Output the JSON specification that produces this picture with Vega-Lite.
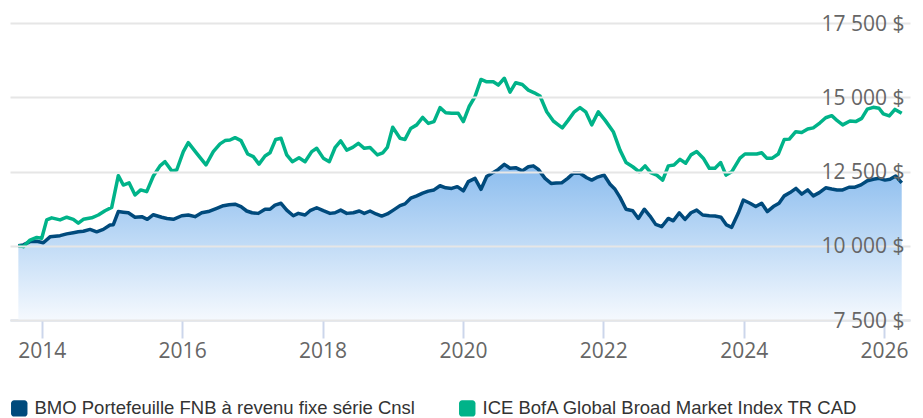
{
  "$schema": "https://vega.github.io/schema/vega-lite/v6.json",
  "autosize": {"type": "none"},
  "padding": {"left": 10, "top": 23, "right": 13, "bottom": 98},
  "width": 900,
  "height": 297,
  "background": "white",
  "config": {
    "view": {"stroke": null},
    "font": "Open Sans"
  },
  "datasets": {
    "bmo": [
      {"t":2013.667,"v":10000},{"t":2013.738,"v":10030},{"t":2013.833,"v":10140},{"t":2013.929,"v":10150},
      {"t":2014.023,"v":10100},{"t":2014.118,"v":10300},{"t":2014.189,"v":10320},{"t":2014.261,"v":10340},
      {"t":2014.356,"v":10400},{"t":2014.450,"v":10440},{"t":2014.521,"v":10470},{"t":2014.593,"v":10490},
      {"t":2014.688,"v":10550},{"t":2014.783,"v":10470},{"t":2014.877,"v":10550},{"t":2014.973,"v":10700},
      {"t":2015.020,"v":10710},{"t":2015.091,"v":11150},{"t":2015.162,"v":11130},{"t":2015.234,"v":11110},
      {"t":2015.329,"v":10960},{"t":2015.425,"v":10980},{"t":2015.504,"v":10890},{"t":2015.590,"v":11045},
      {"t":2015.709,"v":10960},{"t":2015.785,"v":10920},{"t":2015.875,"v":10890},{"t":2015.994,"v":11010},
      {"t":2016.088,"v":11035},{"t":2016.184,"v":10980},{"t":2016.279,"v":11110},{"t":2016.373,"v":11150},
      {"t":2016.493,"v":11260},{"t":2016.587,"v":11350},{"t":2016.668,"v":11380},{"t":2016.754,"v":11400},
      {"t":2016.839,"v":11320},{"t":2016.920,"v":11170},{"t":2016.996,"v":11110},{"t":2017.085,"v":11090},
      {"t":2017.181,"v":11230},{"t":2017.252,"v":11230},{"t":2017.323,"v":11370},{"t":2017.409,"v":11430},
      {"t":2017.490,"v":11200},{"t":2017.584,"v":11010},{"t":2017.655,"v":11090},{"t":2017.751,"v":11035},
      {"t":2017.822,"v":11180},{"t":2017.917,"v":11280},{"t":2018.011,"v":11180},{"t":2018.107,"v":11090},
      {"t":2018.178,"v":11110},{"t":2018.259,"v":11200},{"t":2018.345,"v":11090},{"t":2018.439,"v":11110},
      {"t":2018.524,"v":11170},{"t":2018.595,"v":11090},{"t":2018.677,"v":11170},{"t":2018.762,"v":11070},
      {"t":2018.843,"v":11000},{"t":2018.923,"v":11070},{"t":2019.009,"v":11200},{"t":2019.104,"v":11350},
      {"t":2019.175,"v":11410},{"t":2019.256,"v":11600},{"t":2019.342,"v":11680},{"t":2019.427,"v":11770},
      {"t":2019.507,"v":11840},{"t":2019.588,"v":11880},{"t":2019.674,"v":12020},{"t":2019.755,"v":11950},
      {"t":2019.840,"v":11930},{"t":2019.920,"v":11990},{"t":2020.006,"v":11850},{"t":2020.077,"v":12160},
      {"t":2020.172,"v":12270},{"t":2020.258,"v":11900},{"t":2020.339,"v":12330},{"t":2020.433,"v":12470},
      {"t":2020.504,"v":12570},{"t":2020.590,"v":12740},{"t":2020.671,"v":12610},{"t":2020.752,"v":12630},
      {"t":2020.846,"v":12520},{"t":2020.932,"v":12660},{"t":2021.003,"v":12690},{"t":2021.074,"v":12570},
      {"t":2021.170,"v":12270},{"t":2021.256,"v":12100},{"t":2021.327,"v":12110},{"t":2021.407,"v":12120},
      {"t":2021.493,"v":12270},{"t":2021.573,"v":12440},{"t":2021.668,"v":12440},{"t":2021.764,"v":12290},
      {"t":2021.835,"v":12210},{"t":2021.906,"v":12300},{"t":2022.010,"v":12380},{"t":2022.096,"v":12070},
      {"t":2022.167,"v":11900},{"t":2022.238,"v":11630},{"t":2022.324,"v":11230},{"t":2022.419,"v":11180},
      {"t":2022.499,"v":10920},{"t":2022.584,"v":11230},{"t":2022.665,"v":11000},{"t":2022.746,"v":10720},
      {"t":2022.832,"v":10640},{"t":2022.926,"v":10920},{"t":2022.997,"v":10840},{"t":2023.083,"v":11110},
      {"t":2023.164,"v":10890},{"t":2023.249,"v":11110},{"t":2023.330,"v":11200},{"t":2023.416,"v":11035},
      {"t":2023.510,"v":11010},{"t":2023.591,"v":11000},{"t":2023.677,"v":10960},{"t":2023.755,"v":10700},
      {"t":2023.829,"v":10620},{"t":2023.923,"v":11100},{"t":2023.994,"v":11540},{"t":2024.090,"v":11430},
      {"t":2024.171,"v":11320},{"t":2024.256,"v":11430},{"t":2024.336,"v":11150},{"t":2024.422,"v":11320},
      {"t":2024.503,"v":11430},{"t":2024.578,"v":11680},{"t":2024.660,"v":11790},{"t":2024.745,"v":11930},
      {"t":2024.826,"v":11740},{"t":2024.912,"v":11880},{"t":2024.991,"v":11680},{"t":2025.077,"v":11790},
      {"t":2025.168,"v":11950},{"t":2025.254,"v":11910},{"t":2025.329,"v":11880},{"t":2025.410,"v":11880},
      {"t":2025.500,"v":11970},{"t":2025.585,"v":11970},{"t":2025.671,"v":12050},{"t":2025.761,"v":12190},
      {"t":2025.846,"v":12240},{"t":2025.927,"v":12270},{"t":2026.013,"v":12210},{"t":2026.084,"v":12240},
      {"t":2026.165,"v":12350},{"t":2026.251,"v":12120}
    ],
    "ice": [
      {"t":2013.667,"v":10000},{"t":2013.738,"v":9970},{"t":2013.833,"v":10190},{"t":2013.929,"v":10280},
      {"t":2014.000,"v":10250},{"t":2014.071,"v":10870},{"t":2014.142,"v":10940},{"t":2014.261,"v":10870},
      {"t":2014.356,"v":10960},{"t":2014.450,"v":10890},{"t":2014.521,"v":10760},{"t":2014.593,"v":10890},
      {"t":2014.712,"v":10940},{"t":2014.806,"v":11035},{"t":2014.902,"v":11180},{"t":2014.997,"v":11290},
      {"t":2015.091,"v":12360},{"t":2015.162,"v":12045},{"t":2015.244,"v":12120},{"t":2015.329,"v":11710},
      {"t":2015.410,"v":11880},{"t":2015.496,"v":11820},{"t":2015.590,"v":12350},{"t":2015.685,"v":12690},
      {"t":2015.756,"v":12830},{"t":2015.852,"v":12520},{"t":2015.923,"v":12550},{"t":2016.017,"v":13170},
      {"t":2016.088,"v":13470},{"t":2016.208,"v":13110},{"t":2016.340,"v":12720},{"t":2016.444,"v":13170},
      {"t":2016.540,"v":13430},{"t":2016.611,"v":13540},{"t":2016.682,"v":13560},{"t":2016.754,"v":13640},
      {"t":2016.839,"v":13540},{"t":2016.934,"v":13090},{"t":2017.014,"v":13000},{"t":2017.095,"v":12750},
      {"t":2017.181,"v":13020},{"t":2017.252,"v":13130},{"t":2017.333,"v":13580},{"t":2017.409,"v":13620},
      {"t":2017.490,"v":13060},{"t":2017.570,"v":12830},{"t":2017.665,"v":12960},{"t":2017.751,"v":12830},
      {"t":2017.846,"v":13170},{"t":2017.917,"v":13280},{"t":2018.011,"v":12950},{"t":2018.097,"v":12830},
      {"t":2018.178,"v":13300},{"t":2018.259,"v":13530},{"t":2018.345,"v":13220},{"t":2018.430,"v":13310},
      {"t":2018.510,"v":13450},{"t":2018.595,"v":13280},{"t":2018.677,"v":13310},{"t":2018.781,"v":13060},
      {"t":2018.858,"v":13130},{"t":2018.923,"v":13310},{"t":2019.000,"v":13990},{"t":2019.104,"v":13620},
      {"t":2019.175,"v":13580},{"t":2019.256,"v":13950},{"t":2019.342,"v":14070},{"t":2019.427,"v":14320},
      {"t":2019.507,"v":14120},{"t":2019.588,"v":14180},{"t":2019.674,"v":14650},{"t":2019.755,"v":14480},
      {"t":2019.840,"v":14460},{"t":2019.934,"v":14460},{"t":2020.006,"v":14180},{"t":2020.087,"v":14680},
      {"t":2020.172,"v":15020},{"t":2020.258,"v":15600},{"t":2020.339,"v":15520},{"t":2020.433,"v":15520},
      {"t":2020.504,"v":15410},{"t":2020.590,"v":15640},{"t":2020.671,"v":15170},{"t":2020.752,"v":15490},
      {"t":2020.846,"v":15430},{"t":2020.932,"v":15240},{"t":2021.017,"v":15150},{"t":2021.098,"v":15040},
      {"t":2021.194,"v":14510},{"t":2021.288,"v":14200},{"t":2021.350,"v":14090},{"t":2021.416,"v":13970},
      {"t":2021.501,"v":14230},{"t":2021.587,"v":14510},{"t":2021.668,"v":14650},{"t":2021.749,"v":14510},
      {"t":2021.835,"v":14070},{"t":2021.929,"v":14510},{"t":2022.024,"v":14230},{"t":2022.142,"v":13840},
      {"t":2022.238,"v":13220},{"t":2022.324,"v":12800},{"t":2022.419,"v":12660},{"t":2022.513,"v":12490},
      {"t":2022.595,"v":12690},{"t":2022.675,"v":12460},{"t":2022.761,"v":12380},{"t":2022.846,"v":12210},
      {"t":2022.926,"v":12690},{"t":2023.007,"v":12720},{"t":2023.093,"v":12910},{"t":2023.174,"v":12780},
      {"t":2023.249,"v":13060},{"t":2023.330,"v":13170},{"t":2023.424,"v":12950},{"t":2023.510,"v":12610},
      {"t":2023.591,"v":12610},{"t":2023.672,"v":12800},{"t":2023.748,"v":12380},{"t":2023.829,"v":12490},
      {"t":2023.947,"v":12950},{"t":2024.018,"v":13090},{"t":2024.104,"v":13090},{"t":2024.185,"v":13090},
      {"t":2024.256,"v":13130},{"t":2024.328,"v":12950},{"t":2024.407,"v":12950},{"t":2024.493,"v":13090},
      {"t":2024.578,"v":13580},{"t":2024.650,"v":13590},{"t":2024.741,"v":13840},{"t":2024.826,"v":13810},
      {"t":2024.912,"v":13930},{"t":2024.991,"v":13970},{"t":2025.087,"v":14140},{"t":2025.168,"v":14310},
      {"t":2025.254,"v":14380},{"t":2025.333,"v":14210},{"t":2025.410,"v":14070},{"t":2025.514,"v":14200},
      {"t":2025.595,"v":14180},{"t":2025.681,"v":14290},{"t":2025.761,"v":14600},{"t":2025.846,"v":14660},
      {"t":2025.927,"v":14630},{"t":2025.989,"v":14440},{"t":2026.074,"v":14370},{"t":2026.155,"v":14590},
      {"t":2026.251,"v":14460}
    ]
  },
  "encoding": {
    "x": {
      "field": "t", "type": "quantitative",
      "scale": {"domain": [2013.548, 2026.369], "nice": false, "zero": false},
      "axis": {
        "title": null, "values": [2014, 2016, 2018, 2020, 2022, 2024, 2026], "format": "d",
        "grid": false, "domainColor": "#ccd6eb", "domainWidth": 2,
        "tickColor": "#ccd6eb", "tickWidth": 2, "tickSize": 18,
        "labelFont": "Open Sans", "labelFontSize": 21, "labelColor": "#666666",
        "labelPadding": 2, "labelFlush": false, "labelOverlap": false
      }
    },
    "y": {
      "field": "v", "type": "quantitative",
      "scale": {"domain": [7500, 17500], "nice": false, "zero": false},
      "axis": {
        "title": null, "orient": "right", "values": [7500, 10000, 12500, 15000, 17500],
        "domain": false, "ticks": false, "tickSize": 0,
        "grid": true, "gridColor": "#e6e6e6", "gridWidth": 2,
        "labelAlign": "right", "labelBaseline": "middle", "labelPadding": -6, "labelOffset": 1,
        "labelFont": "Open Sans", "labelFontSize": 21, "labelColor": "#666666",
        "labelExpr": "replace(format(datum.value, ',.0f'), ',', ' ') + ' $'",
        "zindex": 1
      }
    }
  },
  "layer": [
    {
      "data": {"name": "bmo"},
      "mark": {
        "type": "area",
        "color": {
          "gradient": "linear", "x1": 0, "y1": 0, "x2": 0, "y2": 1,
          "stops": [{"offset": 0, "color": "#8abcee"}, {"offset": 1, "color": "#f5f9fe"}]
        }
      },
      "encoding": {"y2": {"datum": 7500}}
    },
    {
      "data": {"name": "bmo"},
      "mark": {"type": "line", "strokeWidth": 3.5, "strokeJoin": "round"},
      "encoding": {
        "color": {
          "datum": "BMO Portefeuille FNB à revenu fixe série Cnsl",
          "type": "nominal",
          "scale": {
            "domain": ["BMO Portefeuille FNB à revenu fixe série Cnsl", "ICE BofA Global Broad Market Index TR CAD"],
            "range": ["#004a7c", "#00b389"]
          },
          "legend": {
            "title": null, "orient": "none", "legendX": 0, "legendY": 376,
            "direction": "horizontal", "columns": 2, "columnPadding": 43, "padding": 0,
            "symbolType": "M-0.62,-1H0.62A0.38,0.38,0,0,1,1,-0.62V0.62A0.38,0.38,0,0,1,0.62,1H-0.62A0.38,0.38,0,0,1,-1,0.62V-0.62A0.38,0.38,0,0,1,-0.62,-1Z",
            "symbolSize": 270, "symbolStrokeWidth": 0, "symbolOpacity": 1,
            "labelFont": "Liberation Sans", "labelFontSize": 18.5, "labelColor": "#333333",
            "labelOffset": 6, "labelLimit": 600,
            "encode": {
              "symbols": {
                "update": {
                  "fill": {"scale": "color", "field": "value"},
                  "strokeWidth": {"value": 0},
                  "opacity": {"value": 1}
                }
              }
            }
          }
        }
      }
    },
    {
      "data": {"name": "ice"},
      "mark": {"type": "line", "strokeWidth": 3.5, "strokeJoin": "round"},
      "encoding": {
        "color": {"datum": "ICE BofA Global Broad Market Index TR CAD", "type": "nominal"}
      }
    }
  ]
}
